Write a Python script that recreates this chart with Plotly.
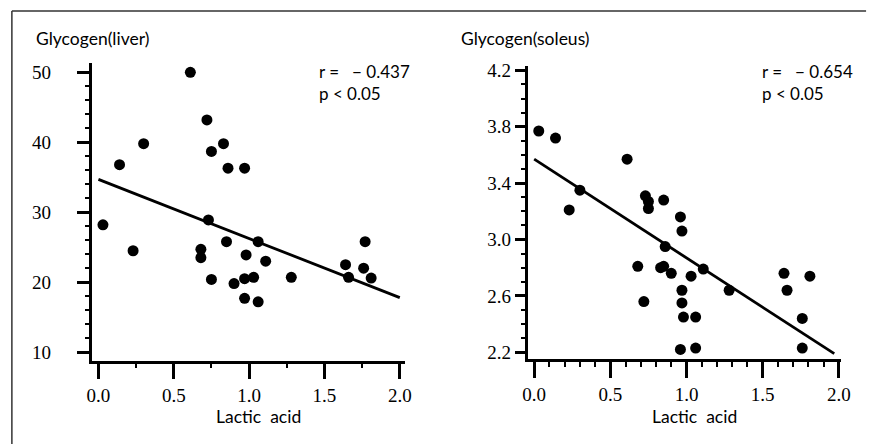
import plotly.graph_objects as go

# ---- data ----
liver_lactic = [0.61, 0.72, 0.14, 0.30, 0.83, 0.75, 0.86, 0.97, 0.03, 0.73,
                0.23, 0.68, 0.68, 0.85, 1.06, 0.98, 1.11, 0.75, 0.90, 0.97,
                1.03, 0.97, 1.06, 1.28, 1.64, 1.66, 1.77, 1.76, 1.81]
liver_glycogen = [50.0, 43.2, 36.8, 39.8, 39.8, 38.7, 36.3, 36.3, 28.2, 28.9,
                  24.5, 24.7, 23.5, 25.8, 25.8, 23.9, 23.0, 20.4, 19.8, 20.5,
                  20.7, 17.7, 17.2, 20.7, 22.5, 20.7, 25.8, 22.0, 20.6]
liver_fit_x = [0.0, 2.0]
liver_fit_y = [34.7, 17.8]

soleus_lactic = [0.03, 0.14, 0.61, 0.30, 0.23, 0.73, 0.75, 0.75, 0.85, 0.96,
                 0.97, 0.86, 0.68, 0.83, 0.85, 0.90, 1.03, 1.11, 0.72, 0.97,
                 0.97, 0.98, 1.06, 0.96, 1.06, 1.28, 1.64, 1.66, 1.81, 1.76,
                 1.76]
soleus_glycogen = [3.77, 3.72, 3.57, 3.35, 3.21, 3.31, 3.27, 3.22, 3.28, 3.16,
                   3.06, 2.95, 2.81, 2.80, 2.81, 2.76, 2.74, 2.79, 2.56, 2.64,
                   2.55, 2.45, 2.45, 2.22, 2.23, 2.64, 2.76, 2.64, 2.74, 2.44,
                   2.23]
soleus_fit_x = [0.0, 1.97]
soleus_fit_y = [3.57, 2.19]

liver_yticks = [10, 20, 30, 40, 50]
soleus_yticks = [2.2, 2.6, 3.0, 3.4, 3.8, 4.2]
x_ticks = [0.0, 0.5, 1.0, 1.5, 2.0]

W, H = 880, 447


def px(x):
    return x / W


def py(y):
    return 1 - y / H


fig = go.Figure()
fig.add_trace(go.Scatter(x=liver_lactic, y=liver_glycogen, mode="markers",
                         marker=dict(color="black", size=11),
                         xaxis="x", yaxis="y", showlegend=False))
fig.add_trace(go.Scatter(x=liver_fit_x, y=liver_fit_y, mode="lines",
                         line=dict(color="black", width=2.8),
                         xaxis="x", yaxis="y", showlegend=False))
fig.add_trace(go.Scatter(x=soleus_lactic, y=soleus_glycogen, mode="markers",
                         marker=dict(color="black", size=11),
                         xaxis="x2", yaxis="y2", showlegend=False))
fig.add_trace(go.Scatter(x=soleus_fit_x, y=soleus_fit_y, mode="lines",
                         line=dict(color="black", width=2.8),
                         xaxis="x2", yaxis="y2", showlegend=False))

tickfont = dict(family="Liberation Serif, serif", size=19, color="black")
textfont = dict(family="Lato", size=17.5, color="black")
statfont = dict(family="Lato", size=17, color="black")

common = dict(showgrid=False, zeroline=False, showline=True, linecolor="black",
              linewidth=2.5, ticks="outside", tickcolor="black", tickfont=tickfont,
              mirror=False)

fig.update_layout(
    width=W, height=H,
    margin=dict(l=0, r=0, t=0, b=0),
    paper_bgcolor="white", plot_bgcolor="white",
    xaxis=dict(domain=[px(88), px(407)], range=[-0.046, 2.035], anchor="y",
               tickvals=x_ticks, ticktext=["%.1f" % v for v in x_ticks],
               ticklen=16, tickwidth=2.5, ticklabelstandoff=0,
               minor=dict(dtick=0.25, tick0=0, ticklen=5, tickwidth=1.5,
                          ticks="outside", tickcolor="black"),
               **common),
    yaxis=dict(domain=[py(362), py(58)], range=[8.78, 51.36], anchor="x",
               tickvals=liver_yticks, ticklen=12, tickwidth=2.5,
               ticklabelstandoff=22,
               minor=dict(dtick=2, tick0=0, ticklen=4, tickwidth=1.5,
                          ticks="outside", tickcolor="black"),
               **common),
    xaxis2=dict(domain=[px(531.7), px(850)], range=[-0.043, 2.011], anchor="y2",
                tickvals=x_ticks, ticktext=["%.1f" % v for v in x_ticks],
                ticklen=16, tickwidth=2.5, ticklabelstandoff=0,
                minor=dict(dtick=0.1, tick0=0, ticklen=5, tickwidth=1.5,
                           ticks="outside", tickcolor="black"),
                **common),
    yaxis2=dict(domain=[py(360.7), py(61.7)], range=[2.149, 4.228], anchor="x2",
                tickvals=soleus_yticks, ticktext=["%.1f" % v for v in soleus_yticks],
                ticklen=10, tickwidth=2.5, ticklabelstandoff=0,
                minor=dict(dtick=0.1, tick0=0, ticklen=4, tickwidth=1.5,
                           ticks="outside", tickcolor="black"),
                **common),
)

annots = [
    ("Glycogen(liver)", 30, 33, "left", textfont),
    ("Glycogen(soleus)", 462, 33, "left", textfont),
    ("Lactic&nbsp; acid", 258, 419, "center", textfont),
    ("Lactic&nbsp; acid", 701, 419, "center", textfont),
    ("r =&nbsp;&nbsp; − 0.437<br>p &lt; 0.05", 317, 78, "left", statfont),
    ("r =&nbsp;&nbsp; − 0.654<br>p &lt; 0.05", 768, 78, "left", statfont),
]
for text, x, y, anchor, f in annots:
    fig.add_annotation(text=text, x=px(x), y=py(y), xref="paper", yref="paper",
                       xanchor=anchor, yanchor="middle", align="left",
                       showarrow=False, font=f)

# outer frame (top and left edges visible)
fig.add_shape(type="line", xref="paper", yref="paper", x0=px(7), x1=px(876),
              y0=py(5), y1=py(5), line=dict(color="#333", width=1.5))
fig.add_shape(type="line", xref="paper", yref="paper", x0=px(7), x1=px(7),
              y0=py(5), y1=0, line=dict(color="#333", width=1.5))

fig.write_html("out.html",
               config={"displayModeBar": False},
               post_script="document.body.style.margin='0';"
                           "document.body.style.overflow='hidden';")
